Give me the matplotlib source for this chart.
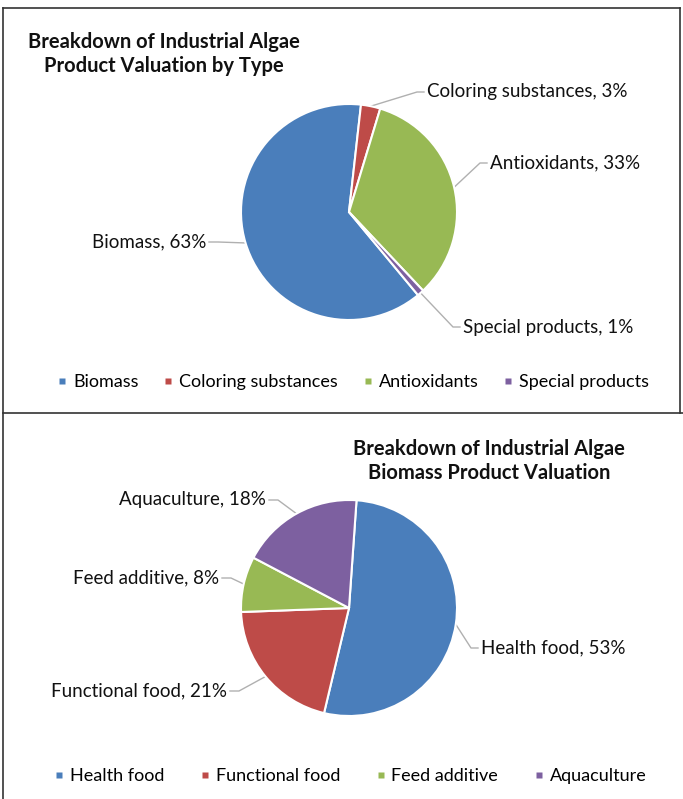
import numpy as np
import matplotlib
matplotlib.use("Agg")
import matplotlib.pyplot as plt
from matplotlib.lines import Line2D

plt.rcParams['font.family'] = ['Lato', 'DejaVu Sans']

# data
type_labels = ['Biomass', 'Coloring substances', 'Antioxidants', 'Special products']
type_values = [62.8, 2.9, 33.3, 1.0]

biomass_labels = ['Health food', 'Functional food', 'Feed additive', 'Aquaculture']
biomass_values = [52.6, 20.7, 8.3, 18.4]

colors = ['#4A7EBB', '#BE4B48', '#98B954', '#7D60A0']

W, H = 683, 799
R = 108.0  # pie radius in px

fig = plt.figure(figsize=(W / 100, H / 100), dpi=100)


def fx(x):
    return x / W


def fy(y):
    return 1 - y / H


def make_axes(top, bottom, cx, cy):
    ax = fig.add_axes([0, fy(bottom), 1, (bottom - top) / H])
    return ax, (cx, cy, top, bottom)


def setup_limits(ax, geo):
    cx, cy, top, bottom = geo
    ax.set_xlim((0 - cx) / R, (W - cx) / R)
    ax.set_ylim((cy - bottom) / R, (cy - top) / R)
    ax.set_aspect('auto')
    ax.axis('off')


def draw_pie(ax, geo, values, labels, startangle, label_pos):
    cx, cy, top, bottom = geo
    wedges, _ = ax.pie(values, colors=colors, startangle=startangle,
                       counterclock=False, radius=1.0,
                       wedgeprops=dict(edgecolor='white', linewidth=1.5))
    setup_limits(ax, geo)
    for w, lab, v, (tx, ty, side) in zip(wedges, labels, values, label_pos):
        ang = np.deg2rad((w.theta1 + w.theta2) / 2)
        ax0, ay0 = np.cos(ang), np.sin(ang)
        dx = (tx - cx) / R
        dy = (cy - ty) / R
        if side == 'left':
            ex = dx + 12 / R
            ha = 'right'
        else:
            ex = dx - 10 / R
            ha = 'left'
        ax.plot([ax0, ex, dx + (3 / R if side == 'left' else -3 / R)],
                [ay0, dy, dy], color='#B0B0B0', lw=1.0, clip_on=False,
                zorder=0)
        ax.text(dx, dy, '%s, %d%%' % (lab, round(v)), ha=ha, va='center',
                fontsize=13.5, color='#111111', clip_on=False)
    return wedges


# top panel
ax1, geo1 = make_axes(8, 413, 349, 212)
top_pos = [(206, 242, 'left'), (427, 92, 'right'),
           (490, 163, 'right'), (463, 327, 'right')]
w1 = draw_pie(ax1, geo1, type_values, type_labels, 90 - 140.3, top_pos)

# bottom panel
ax2, geo2 = make_axes(413, 799, 349, 608)
bot_pos = [(481, 648, 'right'), (227, 691, 'left'),
           (219, 578, 'left'), (266, 500, 'left')]
w2 = draw_pie(ax2, geo2, biomass_values, biomass_labels, 90 - 4, bot_pos)

# titles
fig.text(fx(164), fy(54), 'Breakdown of Industrial Algae\nProduct Valuation by Type',
         ha='center', va='center', fontsize=14.5, fontweight='bold',
         color='#111111', linespacing=1.2)
fig.text(fx(489), fy(461), 'Breakdown of Industrial Algae\nBiomass Product Valuation',
         ha='center', va='center', fontsize=14.5, fontweight='bold',
         color='#111111', linespacing=1.2)


# legends
def legend(wedges, labels, y, cx, spacing):
    handles = [Line2D([], [], marker='s', ls='', markersize=5,
                      markerfacecolor=w.get_facecolor(), markeredgecolor='none')
               for w in wedges]
    fig.legend(handles, labels, loc='center', bbox_to_anchor=(fx(cx), fy(y)),
               ncol=4, frameon=False, fontsize=13, handlelength=0.6,
               handletextpad=0.3, columnspacing=spacing)


legend(w1, type_labels, 382, 353, 1.35)
legend(w2, biomass_labels, 776, 350, 1.95)

# panel borders
for xs, ys in [([3, 680], [8, 8]), ([3, 3], [8, 799]), ([680, 680], [8, 413]),
               ([3, 683], [413, 413])]:
    fig.add_artist(Line2D([fx(x) for x in xs], [fy(y) for y in ys],
                          color='#333333', lw=1.2))

fig.savefig('out.png', dpi=100)
